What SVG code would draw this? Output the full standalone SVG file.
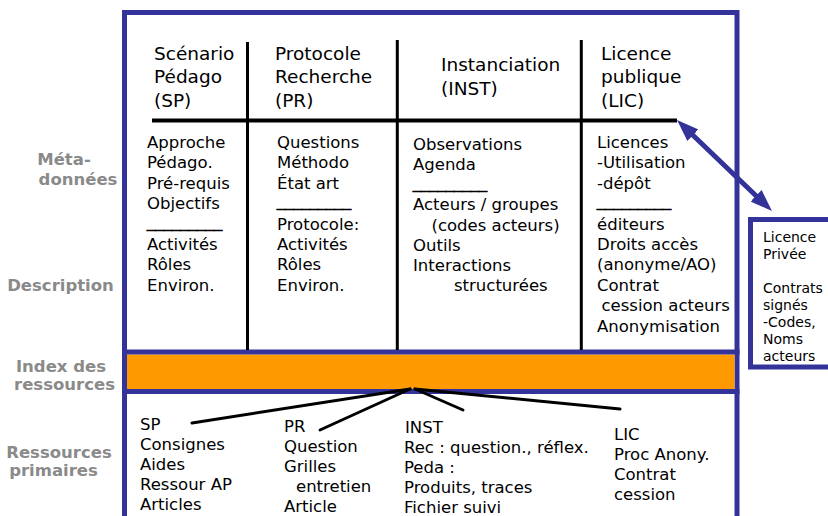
<svg xmlns="http://www.w3.org/2000/svg" width="828" height="516" viewBox="0 0 828 516">
<style>
text{font-family:"DejaVu Sans",Verdana,sans-serif;fill:#000}
.h{font-size:18.5px}
.b{font-size:16.5px}
.u{font-size:10px;stroke:#000;stroke-width:0.6}
.s{font-size:14px}
.lab{font-size:16.5px;font-weight:bold;fill:#8a8a8a;text-anchor:middle}
.blue{stroke:#333399;stroke-width:5;fill:none}
.div{stroke:#000;stroke-width:3;fill:none}
.con{stroke:#000;stroke-width:3;fill:none;stroke-linecap:round}
</style>
<defs>
<marker id="ah" viewBox="0 0 22 16" refX="10" refY="8" markerWidth="22" markerHeight="16" markerUnits="userSpaceOnUse" orient="auto-start-reverse">
<path d="M0,0 L22,8 L0,16 z" fill="#333399"/>
</marker>
</defs>
<rect width="828" height="516" fill="#fff"/>

<g id="labels">
<text class="lab" x="64" y="165">Méta-</text>
<text class="lab" x="78" y="185">données</text>
<text class="lab" x="60.5" y="291">Description</text>
<text class="lab" x="61" y="372">Index des</text>
<text class="lab" x="64.5" y="390">ressources</text>
<text class="lab" x="59" y="458">Ressources</text>
<text class="lab" x="53.5" y="476">primaires</text>
</g>

<g id="frame">
<rect x="124.5" y="12.5" width="612.5" height="520" class="blue"/>
<rect x="127" y="354.5" width="607.5" height="35" fill="#FF9900"/>
<line x1="122" y1="352" x2="739.5" y2="352" class="blue"/>
<line x1="122" y1="391.5" x2="739.5" y2="391.5" class="blue"/>
<line x1="152" y1="120.5" x2="677" y2="120.5" stroke="#000" stroke-width="4"/>
<line x1="247.5" y1="42" x2="247.5" y2="350" class="div"/>
<line x1="397.3" y1="40" x2="397.3" y2="350" class="div"/>
<line x1="581.3" y1="40" x2="581.3" y2="350" class="div"/>
</g>

<g id="col-sp">
<text class="h" x="154" y="59.5">Scénario</text>
<text class="h" x="154" y="83">Pédago</text>
<text class="h" x="154" y="106.5">(SP)</text>
<text class="b" x="147" y="148">Approche</text>
<text class="b" x="147" y="168.4">Pédago.</text>
<text class="b" x="147" y="188.8">Pré-requis</text>
<text class="b" x="147" y="209.2">Objectifs</text>
<text class="u" x="147" y="228.3" textLength="75" lengthAdjust="spacingAndGlyphs">_________</text>
<text class="b" x="147" y="250">Activités</text>
<text class="b" x="147" y="270.4">Rôles</text>
<text class="b" x="147" y="290.8">Environ.</text>
</g>

<g id="col-pr">
<text class="h" x="275" y="59.5">Protocole</text>
<text class="h" x="275" y="83">Recherche</text>
<text class="h" x="275" y="106.5">(PR)</text>
<text class="b" x="277" y="148">Questions</text>
<text class="b" x="277" y="168.4">Méthodo</text>
<text class="b" x="277" y="188.8">État art</text>
<text class="u" x="277" y="206.8" textLength="74" lengthAdjust="spacingAndGlyphs">_________</text>
<text class="b" x="277" y="229.6">Protocole:</text>
<text class="b" x="277" y="250">Activités</text>
<text class="b" x="277" y="270.4">Rôles</text>
<text class="b" x="277" y="290.8">Environ.</text>
</g>

<g id="col-inst">
<text class="h" x="441" y="71">Instanciation</text>
<text class="h" x="441" y="94.5">(INST)</text>
<text class="b" x="413" y="149.5">Observations</text>
<text class="b" x="413" y="169.8">Agenda</text>
<text class="u" x="413" y="188.8" textLength="74" lengthAdjust="spacingAndGlyphs">_________</text>
<text class="b" x="413" y="210.4">Acteurs / groupes</text>
<text class="b" x="431.5" y="230.6">(codes acteurs)</text>
<text class="b" x="413" y="250.8">Outils</text>
<text class="b" x="413" y="271">Interactions</text>
<text class="b" x="454" y="291.2">structurées</text>
</g>

<g id="col-lic">
<text class="h" x="601" y="59.5">Licence</text>
<text class="h" x="601" y="83">publique</text>
<text class="h" x="601" y="106.5">(LIC)</text>
<text class="b" x="597" y="148">Licences</text>
<text class="b" x="597" y="168.4">-Utilisation</text>
<text class="b" x="597" y="188.8">-dépôt</text>
<text class="u" x="597" y="207.3" textLength="74" lengthAdjust="spacingAndGlyphs">_________</text>
<text class="b" x="597" y="229.6">éditeurs</text>
<text class="b" x="597" y="250">Droits accès</text>
<text class="b" x="597" y="270.4">(anonyme/AO)</text>
<text class="b" x="597" y="290.8">Contrat</text>
<text class="b" x="601.5" y="311.2">cession acteurs</text>
<text class="b" x="597" y="331.6">Anonymisation</text>
</g>

<g id="licence-privee">
<rect x="750.5" y="219.5" width="90" height="147.5" class="blue"/>
<text class="s" x="763" y="242">Licence</text>
<text class="s" x="763" y="258.5">Privée</text>
<text class="s" x="763" y="293">Contrats</text>
<text class="s" x="763" y="310">signés</text>
<text class="s" x="763" y="327">-Codes,</text>
<text class="s" x="763" y="344">Noms</text>
<text class="s" x="763" y="361">acteurs</text>
</g>

<g id="res-sp">
<text class="b" x="140" y="430">SP</text>
<text class="b" x="140" y="450">Consignes</text>
<text class="b" x="140" y="470">Aides</text>
<text class="b" x="140" y="490">Ressour AP</text>
<text class="b" x="140" y="510">Articles</text>
</g>

<g id="res-pr">
<text class="b" x="284" y="432">PR</text>
<text class="b" x="284" y="452">Question</text>
<text class="b" x="284" y="472">Grilles</text>
<text class="b" x="296" y="492">entretien</text>
<text class="b" x="284" y="512">Article</text>
</g>

<g id="res-inst">
<text class="b" x="405" y="433">INST</text>
<text class="b" x="404" y="453">Rec : question., réflex.</text>
<text class="b" x="404" y="473">Peda :</text>
<text class="b" x="404" y="493">Produits, traces</text>
<text class="b" x="404" y="513">Fichier suivi</text>
</g>

<g id="res-lic">
<text class="b" x="614" y="440">LIC</text>
<text class="b" x="614" y="460">Proc Anony.</text>
<text class="b" x="614" y="480">Contrat</text>
<text class="b" x="614" y="500">cession</text>
</g>

<g id="connectors">
<line x1="685.7" y1="128.3" x2="763.3" y2="202.7" stroke="#333399" stroke-width="5" marker-start="url(#ah)" marker-end="url(#ah)"/>
<line x1="410" y1="389" x2="192" y2="423" class="con"/>
<line x1="410" y1="389" x2="320" y2="430" class="con"/>
<line x1="415" y1="389" x2="463" y2="410" class="con"/>
<line x1="415" y1="389" x2="620" y2="409" class="con"/>
</g>
</svg>
